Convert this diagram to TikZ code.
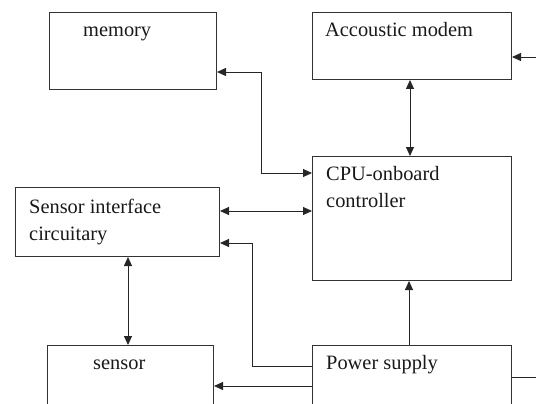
\documentclass[tikz,border=0pt]{standalone}
\usepackage{fontspec}
\setmainfont{Liberation Serif}
\usetikzlibrary{arrows.meta}
\begin{document}
\begin{tikzpicture}[x=1pt,y=-1pt,
  box/.style={draw=black!80,line width=1pt,rectangle,inner sep=0pt,anchor=north west},
  lbl/.style={anchor=base west,inner sep=0pt,font=\fontsize{20.4}{27}\selectfont,text=black!90},
  conn/.style={draw=black!85,line width=0.9pt,>={Triangle[length=9pt,width=8pt]}}]
\useasboundingbox (0,0) rectangle (536,404);
% boxes
\node[box,minimum width=167pt,minimum height=77pt] (mem) at (49,12) {};
\node[box,minimum width=199pt,minimum height=67pt] (modem) at (312,12) {};
\node[box,minimum width=199pt,minimum height=124pt] (cpu) at (312,156) {};
\node[box,minimum width=204pt,minimum height=69pt] (sif) at (15,187) {};
\node[box,minimum width=166pt,minimum height=70pt] (sens) at (47,345) {};
\node[box,minimum width=199pt,minimum height=70pt] (pow) at (312,345) {};
% labels
\node[lbl] (tmem) at (83,37) {memory};
\node[lbl] (tmodem) at (325,37) {Accoustic modem};
\node[lbl] (tcpua) at (326,180) {CPU-onboard};
\node[lbl] (tcpub) at (326,207) {controller};
\node[lbl] (tsifa) at (29,213) {Sensor interface};
\node[lbl] (tsifb) at (29,240) {circuitary};
\node[lbl] (tsens) at (93,369) {sensor};
\node[lbl] (tpow) at (326,369) {Power supply};
% outside ends
\coordinate (extin) at (536,57);
\coordinate (extout) at (536,377);
% connectors
\draw[conn,<->] ([yshift=-60pt]mem.north east) -- ++(44,0) |- ([yshift=-17pt]cpu.north west);
\draw[conn,<->] ([xshift=98pt]modem.south west) -- ([xshift=98pt]cpu.north west);
\draw[conn,<->] ([yshift=-24pt]sif.north east) -- ([yshift=-55pt]cpu.north west);
\draw[conn,<->] ([xshift=113pt]sif.south west) -- ([xshift=81pt]sens.north west);
\draw[conn,->] (extin) -- ([yshift=-45pt]modem.north east);
\draw[conn,->] ([xshift=97pt]pow.north west) -- ([xshift=97pt]cpu.south west);
\draw[conn,->] ([yshift=-21pt]pow.north west) -- (252,366) |- ([yshift=-56pt]sif.north east);
\draw[conn,->] ([yshift=-41pt]pow.north west) -- ([yshift=-41pt]sens.north east);
\draw[conn] ([yshift=-32pt]pow.north east) -- (extout);
\end{tikzpicture}
\end{document}
